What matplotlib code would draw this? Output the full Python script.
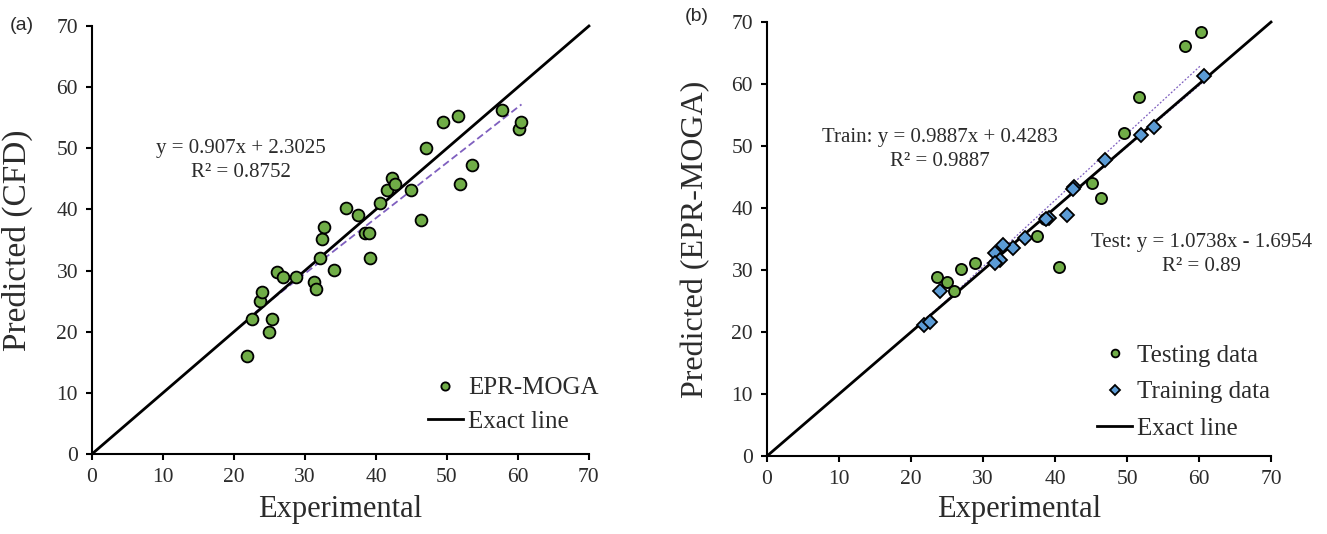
import matplotlib.pyplot as plt
import numpy as np

# panel (a): CFD vs experimental
exp_a = [21.8, 22.6, 24.9, 25.4, 23.6, 24.0, 26.1, 26.9, 28.8, 31.3, 31.5, 32.1,
         32.4, 32.7, 34.1, 35.8, 37.5, 38.4, 39.0, 39.1, 40.6, 41.6, 42.3, 42.7,
         45.0, 46.4, 47.0, 49.5, 51.5, 51.9, 53.6, 57.8, 60.2, 60.5]
cfd_a = [16.0, 22.0, 20.0, 22.0, 25.1, 26.5, 29.7, 29.0, 29.0, 28.2, 27.0, 32.1,
         35.1, 37.2, 30.1, 40.2, 39.1, 36.1, 36.1, 32.1, 41.1, 43.1, 45.1, 44.1,
         43.1, 38.2, 50.1, 54.3, 55.3, 44.2, 47.2, 56.3, 53.2, 54.3]

# panel (b): EPR-MOGA vs experimental
test_x = [60.3, 58.1, 51.6, 49.6, 45.1, 46.4, 38.6, 37.5, 40.6, 28.9, 26.9, 23.6, 25.0, 26.0]
test_y = [68.4, 66.1, 57.9, 52.1, 44.1, 41.6, 38.2, 35.5, 30.5, 31.1, 30.1, 28.9, 28.0, 26.7]
train_x = [60.7, 53.7, 51.9, 47.0, 42.7, 42.5, 41.7, 39.1, 38.8, 35.9, 34.2, 32.8,
           31.7, 32.4, 31.6, 24.0, 21.8, 22.7]
train_y = [61.3, 53.1, 51.8, 47.7, 43.4, 43.1, 38.9, 38.4, 38.2, 35.2, 33.5, 34.1,
           32.7, 31.7, 31.2, 26.6, 21.2, 21.7]

fit_a = (0.907, 2.3025)
fit_train = (0.9887, 0.4283)
fit_test = (1.0738, -1.6954)
exact_line = [0, 70]
ticks = np.arange(0, 80, 10)

green = "#70AD47"
blue = "#5B9BD5"
purple = "#7F5FBF"
text_col = "#2b2b2b"

plt.rcParams.update(
    {
        "font.family": "serif",
        "font.serif": ["Liberation Serif", "DejaVu Serif"],
        "text.color": text_col,
        "axes.labelcolor": text_col,
        "xtick.color": "black",
        "ytick.color": "black",
        "xtick.labelcolor": text_col,
        "ytick.labelcolor": text_col,
    }
)


def style_axes(ax):
    ax.set_xlim(0, 70)
    ax.set_ylim(0, 70)
    ax.set_xticks(ticks)
    ax.set_yticks(ticks)
    for side in ["top", "right"]:
        ax.spines[side].set_visible(False)
    for side in ["left", "bottom"]:
        ax.spines[side].set_linewidth(1.5)
    ax.tick_params(direction="out", length=4, width=1.5, labelsize=15.5, pad=6)


def fit_line(ax, xs, coef, **kw):
    xr = np.array([min(xs), max(xs)])
    ax.plot(xr, coef[0] * xr + coef[1], **kw)


fig = plt.figure(figsize=(13.27, 5.34), dpi=100)
ax_a = fig.add_axes([0.0693, 0.1498, 0.3745, 0.8015])
ax_b = fig.add_axes([0.578, 0.146, 0.3798, 0.8127])

# ---- panel (a)
style_axes(ax_a)
fit_line(ax_a, exp_a, fit_a, color=purple, linestyle=(0, (4, 2)), linewidth=1.3, zorder=2)
ax_a.plot(exp_a, cfd_a, linestyle="none", marker="o", markersize=8.5,
          markerfacecolor=green, markeredgecolor="black", markeredgewidth=1.3,
          label="EPR-MOGA", zorder=4)
ax_a.plot(exact_line, exact_line, color="black", linewidth=2, label="Exact line",
          clip_on=False, zorder=3)
ax_a.text(21.0, 48.0, "y = 0.907x + 2.3025\nR² = 0.8752", ha="center", va="center",
          fontsize=15, linespacing=1.35)
ax_a.set_xlabel("Experimental", fontsize=22)
ax_a.set_ylabel("Predicted (CFD)", fontsize=24)
ax_a.xaxis.set_label_coords(0.5, -0.095)
ax_a.yaxis.set_label_coords(-0.118, 0.5)
ax_a.legend(loc="center left", bbox_to_anchor=(0.676, 0.1145), frameon=False,
            fontsize=18, markerscale=0.7, handlelength=1.4, handletextpad=0.2,
            labelspacing=0.45, borderpad=0, borderaxespad=0)

# ---- panel (b)
style_axes(ax_b)
fit_line(ax_b, train_x, fit_train, color=purple, linestyle=(0, (1.5, 1.5)), linewidth=0.9, zorder=2)
fit_line(ax_b, test_x, fit_test, color=purple, linestyle=(0, (1.5, 1.5)), linewidth=0.9, zorder=2)
ax_b.plot(test_x, test_y, linestyle="none", marker="o", markersize=8,
          markerfacecolor=green, markeredgecolor="black", markeredgewidth=1.3,
          label="Testing data", zorder=4)
ax_b.plot(train_x, train_y, linestyle="none", marker="D", markersize=7,
          markerfacecolor=blue, markeredgecolor="black", markeredgewidth=1.3,
          label="Training data", zorder=5)
ax_b.plot(exact_line, exact_line, color="black", linewidth=2, label="Exact line",
          clip_on=False, zorder=3)
ax_b.text(24.0, 49.4, "Train: y = 0.9887x + 0.4283\nR² = 0.9887", ha="center",
          va="center", fontsize=15, linespacing=1.35)
ax_b.text(60.4, 32.5, "Test: y = 1.0738x - 1.6954\nR² = 0.89", ha="center",
          va="center", fontsize=15, linespacing=1.35)
ax_b.set_xlabel("Experimental", fontsize=22)
ax_b.set_ylabel("Predicted (EPR-MOGA)", fontsize=23)
ax_b.xaxis.set_label_coords(0.5, -0.09)
ax_b.yaxis.set_label_coords(-0.113, 0.5)
ax_b.legend(loc="center left", bbox_to_anchor=(0.655, 0.147), frameon=False,
            fontsize=18, markerscale=0.7, handlelength=1.4, handletextpad=0.2,
            labelspacing=0.55, borderpad=0, borderaxespad=0)

fig.text(0.007, 0.953, "(a)", fontsize=14, family="Liberation Sans", va="center")
fig.text(0.516, 0.970, "(b)", fontsize=14, family="Liberation Sans", va="center")

fig.savefig("out.png", dpi=100)
